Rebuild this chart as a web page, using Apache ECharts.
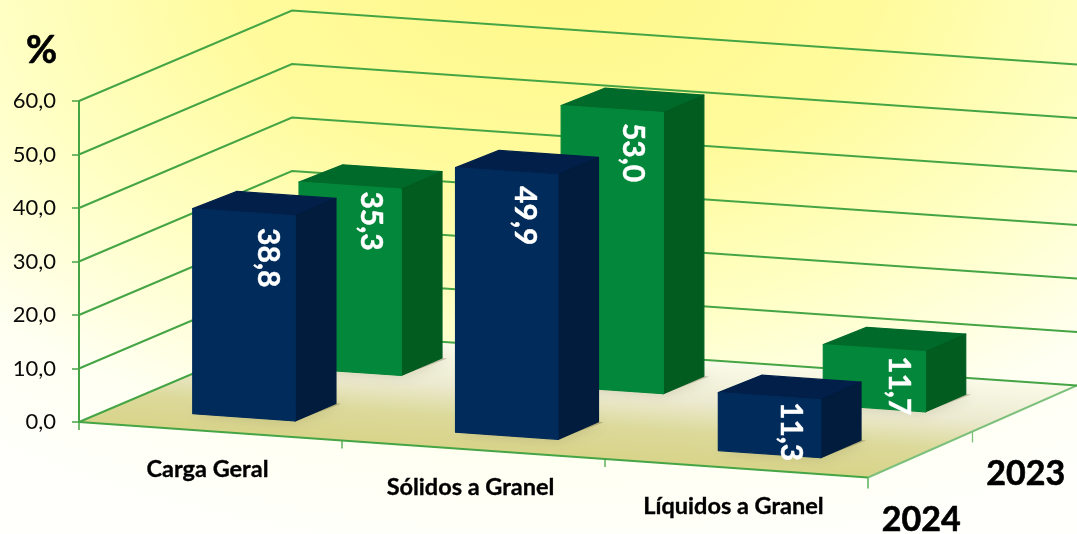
<!DOCTYPE html>
<html><head><meta charset="utf-8">
<style>
html,body{margin:0;padding:0;width:1077px;height:534px;overflow:hidden;
background:radial-gradient(ellipse 800px 480px at 560px -20px,#fff88a 0,#fffb9c 40%,#ffffc4 70%,#fffff2 100%,#fffffb 120%);}
#c{width:1077px;height:534px;}
</style>
<script src="https://cdn.jsdelivr.net/npm/echarts@6/dist/echarts.min.js"></script>
</head><body><div id="c"></div>
<script>
const categories = ['Carga Geral', 'Sólidos a Granel', 'Líquidos a Granel'];
const years = ['2024', '2023'];
const values2024 = [38.8, 49.9, 11.3];
const values2023 = [35.3, 53.0, 11.7];
const yTicks = [0, 10, 20, 30, 40, 50, 60];

// projection and style constants (oblique look applied to the library's own coordinates)
const SLOPE = 0.0703, DEPTH_X = 213, DEPTH_Y = -90.5, HALF_W = 0.198, HALF_D = 0.096;
const LINE = '#45a545';
const FONT = 'Lato, Carlito, sans-serif';
const BEVEL = 2.5;
const LABEL_NUDGE = {
  '2024': [[3, 5], [-2, 4], [1, -5]],
  '2023': [[0, -5], [0, 3], [4, -3]]
};
const COLORS = {
  '2024': {front: '#012b5a', top: '#011f48', side: '#011c3c'},
  '2023': {front: '#03873a', top: '#006a2b', side: '#025c20'}
};

function project(api, c, d, v) {
  const p = api.coord([0, v]);
  const band = api.size([1, 0])[0];
  const run = (c + 0.5) * band;
  const u = (c + 0.5) / categories.length;
  return [p[0] + c * band + d * (DEPTH_X - 4 * u), p[1] + run * SLOPE + d * (DEPTH_Y - 1.5 * u)];
}
const cEnd = categories.length - 0.5;

function renderWall(params, api) {
  const v = api.value(1);
  return {type: 'polyline', silent: true,
    shape: {points: [project(api, -0.5, 0, v), project(api, -0.5, 1, v), project(api, cEnd, 1, v)]},
    style: {fill: 'none', stroke: LINE, lineWidth: 2}};
}
function renderFloor(params, api) {
  const a = project(api, -0.5, 0, 0), b = project(api, cEnd, 0, 0),
        c = project(api, cEnd, 1, 0), d = project(api, -0.5, 1, 0);
  const children = [{
    type: 'polygon', shape: {points: [a, b, c, d]},
    style: {fill: new echarts.graphic.LinearGradient(480, 450, 487, 345, [
      {offset: 0, color: '#d8d48a'}, {offset: 0.3, color: '#dcd99a'},
      {offset: 0.6, color: '#ecead0'}, {offset: 1, color: '#fbfbea'}], true)}
  }, {
    type: 'line', shape: {x1: a[0], y1: a[1], x2: b[0], y2: b[1]},
    style: {stroke: LINE, lineWidth: 2}
  }, {
    type: 'line', shape: {x1: b[0], y1: b[1], x2: c[0], y2: c[1]},
    style: {stroke: '#7cc07c', lineWidth: 2}
  }, {
    type: 'line', shape: {x1: a[0], y1: a[1] - 1, x2: a[0], y2: a[1] + 8},
    style: {stroke: LINE, lineWidth: 1.5}
  }];
  categories.forEach((n, i) => {
    const t = project(api, i + 0.5, 0, 0);
    children.push({type: 'line', shape: {x1: t[0], y1: t[1], x2: t[0], y2: t[1] + (i === categories.length - 1 ? 11 : 8)},
      style: {stroke: LINE, lineWidth: 1.3}});
    const l = project(api, i, 0, 0);
    children.push({type: 'text', x: l[0] - 3, y: l[1] + 38,
      style: {text: n, fill: '#000', stroke: '#000', lineWidth: 0.35, font: 'bold 23.5px ' + FONT, align: 'center', verticalAlign: 'middle'}});
  });
  const t = project(api, cEnd, 0.5, 0);
  children.push({type: 'line', shape: {x1: t[0], y1: t[1], x2: t[0], y2: t[1] + 11},
    style: {stroke: '#7cc07c', lineWidth: 1.3}});
  years.forEach((y, i) => {
    const q = project(api, cEnd, 0.25 + i * 0.5, 0);
    children.push({type: 'text', x: q[0] + 1, y: q[1] + 66,
      style: {text: y, fill: '#000', stroke: '#000', lineWidth: 0.6, font: 'bold 34px ' + FONT, align: 'center', verticalAlign: 'middle'}});
  });
  return {type: 'group', silent: true, children};
}
function barRenderer(year, dc) {
  const col = COLORS[year];
  return function (params, api) {
    const i = api.value(0), v = api.value(1);
    const c0 = i - HALF_W + 0.006, c1 = i + HALF_W, d0 = dc - HALF_D, d1 = dc + HALF_D;
    const P = (c, d, w) => project(api, c, d, w);
    const T = (c, d) => { const q = project(api, c, d, v); return [q[0], q[1] + BEVEL]; };
    const round = (f) => ({fill: f, stroke: f, lineWidth: 1.2, lineJoin: 'round'});
    const nudge = LABEL_NUDGE[year][i];
    const fm = P(i, d0, v);
    return {type: 'group', children: [
      {type: 'polygon', z2: 0, shape: {points: [P(c0, d0, 0), P(c1, d0, 0), P(c1 + 0.02, d1, 0), P(c0, d1, 0)]},
        style: {fill: 'rgba(110,100,60,0.35)', shadowBlur: 14, shadowColor: 'rgba(90,80,40,0.65)'}},
      {type: 'polygon', z2: 1, shape: {points: [T(c0 + 0.011, d1), T(c1, d1), T(c1, d0), T(c0, d0)]}, style: round(col.top)},
      {type: 'polygon', z2: 1, shape: {points: [P(c1, d0, 0), P(c1, d1, 0), T(c1, d1), T(c1, d0)]}, style: round(col.side)},
      {type: 'polygon', z2: 2, shape: {points: [P(c0, d0, 0), P(c1, d0, 0), T(c1, d0), T(c0, d0)]}, style: round(col.front)},
      {type: 'text', z2: 5, x: fm[0] + 21 + nudge[0], y: fm[1] + 43 + nudge[1], rotation: -Math.PI / 2,
        style: {text: v.toFixed(1).replace('.', ','), fill: '#fff', stroke: '#fff', lineWidth: 0.4, font: 'bold 30px ' + FONT, align: 'center', verticalAlign: 'middle'}}
    ]};
  };
}
const chart = echarts.init(document.getElementById('c'), null, {renderer: 'canvas'});
chart.setOption({
  animation: false,
  backgroundColor: 'transparent',
  grid: {left: 79, top: 101, width: 789, height: 321},
  title: {text: '%', left: 21, top: 27, textStyle: {fontFamily: FONT, fontWeight: 'bold', fontSize: 38, color: '#000', textBorderColor: '#000', textBorderWidth: 0.6}},
  xAxis: {type: 'category', data: categories, axisLine: {show: false}, axisTick: {show: false}, axisLabel: {show: false}},
  yAxis: {type: 'value', min: 0, max: 60, interval: 10,
    splitLine: {show: false},
    axisLine: {show: true, lineStyle: {color: LINE, width: 2}},
    axisTick: {show: true, length: 7, lineStyle: {color: LINE, width: 1.5}},
    axisLabel: {margin: 23, fontFamily: FONT, fontSize: 22, color: '#0a0a0a',
      formatter: v => v.toFixed(1).replace('.', ',')}},
  series: [
    {type: 'custom', name: 'piso', z: 2, clip: false, silent: true, renderItem: renderFloor, data: [[0, 0]], encode: {x: 0, y: 1}},
    {type: 'custom', name: 'grade', z: 3, clip: false, silent: true, renderItem: renderWall, data: yTicks.map(v => [0, v]), encode: {x: 0, y: 1}},
    {type: 'custom', name: '2023', z: 4, clip: false, renderItem: barRenderer('2023', 0.75), data: values2023.map((v, i) => [i, v]), encode: {x: 0, y: 1}},
    {type: 'custom', name: '2024', z: 5, clip: false, renderItem: barRenderer('2024', 0.25), data: values2024.map((v, i) => [i, v]), encode: {x: 0, y: 1}}
  ]
});
</script></body></html>
